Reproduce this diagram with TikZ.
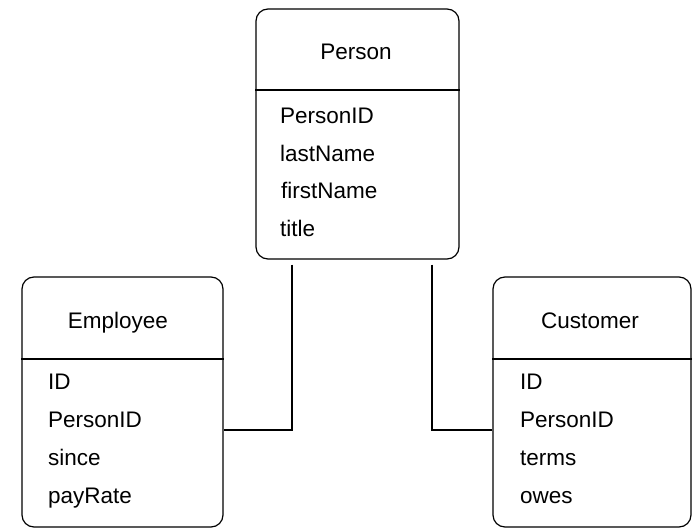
\documentclass[tikz,border=0pt]{standalone}
\usepackage{fontspec}
\setmainfont{Liberation Sans}
\begin{document}
\begin{tikzpicture}[x=1pt,y=-1pt,
  entity/.style={draw, line width=1.2pt, rounded corners=12pt, inner sep=0pt},
  divider/.style={line width=1.2pt},
  link/.style={line width=1.2pt},
  title/.style={font=\fontsize{22.5}{22.5}\selectfont, inner sep=0pt, anchor=base},
  attr/.style={font=\fontsize{22.5}{22.5}\selectfont, inner sep=0pt, anchor=base west}]
\useasboundingbox (0,0) rectangle (694,529);

% Person
\node[entity, minimum width=203pt, minimum height=250pt] (person) at (357.5,134) {};
\draw[divider] (person.west |- 0,90) -- (person.east |- 0,90);
\node[title] (personT) at (356,60) {Person};
\node[attr] (p1) at (280,124) {PersonID};
\node[attr] (p2) at (280,162) {lastName};
\node[attr] (p3) at (281,199) {firstName};
\node[attr] (p4) at (280,237) {title};

% Employee
\node[entity, minimum width=201pt, minimum height=250pt] (employee) at (122.5,402) {};
\draw[divider] (employee.west |- 0,359) -- (employee.east |- 0,359);
\node[title] (employeeT) at (118,329) {Employee};
\node[attr] (e1) at (48,390) {ID};
\node[attr] (e2) at (48,428) {PersonID};
\node[attr] (e3) at (48,465) {since};
\node[attr] (e4) at (48,503) {payRate};

% Customer
\node[entity, minimum width=198pt, minimum height=250pt] (customer) at (592,402) {};
\draw[divider] (customer.west |- 0,359) -- (customer.east |- 0,359);
\node[title] (customerT) at (590,329) {Customer};
\node[attr] (c1) at (520,390) {ID};
\node[attr] (c2) at (520,428) {PersonID};
\node[attr] (c3) at (520,465) {terms};
\node[attr] (c4) at (520,503) {owes};

% Relationships (y axis points down, shifts are in pt upward)
\draw[link] ([xshift=-65.5pt,yshift=-5pt]person.south) |- ([yshift=-28pt]employee.east);
\draw[link] ([xshift=74.5pt,yshift=-5pt]person.south) |- ([yshift=-28pt]customer.west);
\end{tikzpicture}
\end{document}
